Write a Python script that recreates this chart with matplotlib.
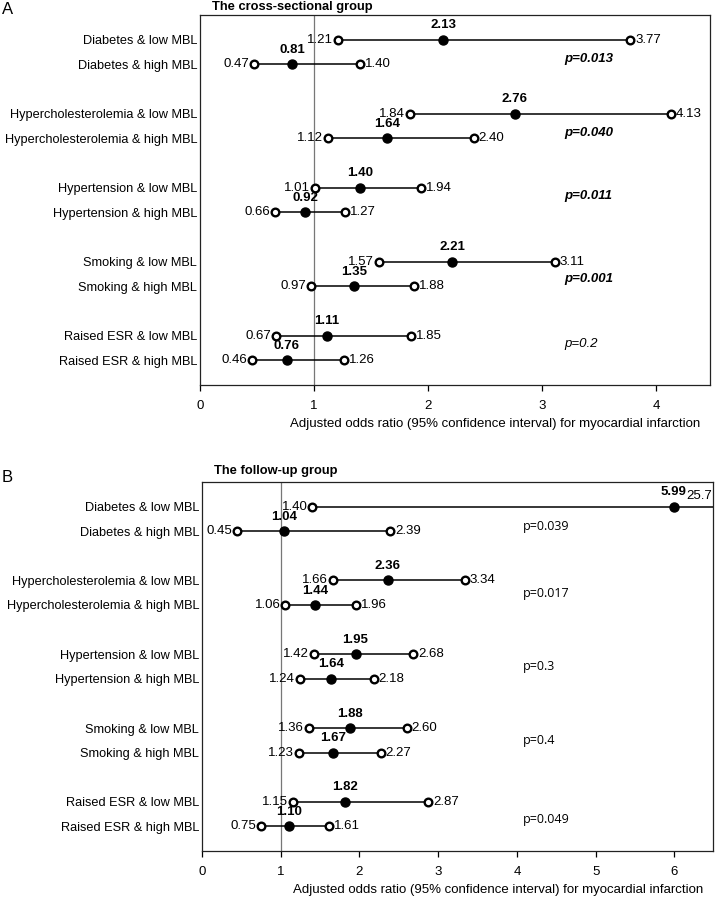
import numpy as np
import matplotlib.pyplot as plt

plt.rcParams['font.family'] = ['Liberation Sans', 'DejaVu Sans']

## data
rows = ['Diabetes & low MBL', 'Diabetes & high MBL',
        'Hypercholesterolemia & low MBL', 'Hypercholesterolemia & high MBL',
        'Hypertension & low MBL', 'Hypertension & high MBL',
        'Smoking & low MBL', 'Smoking & high MBL',
        'Raised ESR & low MBL', 'Raised ESR & high MBL']

a_or = [2.13, 0.81, 2.76, 1.64, 1.40, 0.92, 2.21, 1.35, 1.11, 0.76]
a_lo = [1.21, 0.47, 1.84, 1.12, 1.01, 0.66, 1.57, 0.97, 0.67, 0.46]
a_hi = [3.77, 1.40, 4.13, 2.40, 1.94, 1.27, 3.11, 1.88, 1.85, 1.26]
a_p = ['p=0.013', 'p=0.040', 'p=0.011', 'p=0.001', 'p=0.2']
a_p_bold = [True, True, True, True, False]

b_or = [5.99, 1.04, 2.36, 1.44, 1.95, 1.64, 1.88, 1.67, 1.82, 1.10]
b_lo = [1.40, 0.45, 1.66, 1.06, 1.42, 1.24, 1.36, 1.23, 1.15, 0.75]
b_hi = [25.7, 2.39, 3.34, 1.96, 2.68, 2.18, 2.60, 2.27, 2.87, 1.61]
b_p = ['p=0.039', 'p=0.017', 'p=0.3', 'p=0.4', 'p=0.049']

xlab = 'Adjusted odds ratio (95% confidence interval) for myocardial infarction'

# layout
ypos = []
for g in range(5):
    ypos += [g * 3, g * 3 + 1]
a_p_off = [0.8, 0.77, 0.33, 0.7, 0.33]
b_p_off = [0.79, 0.55, 0.5, 0.5, 0.7]

W, H = 716, 899
fig = plt.figure(figsize=(W / 100, H / 100), dpi=100)


def draw_panel(ax, orr, lo, hi, xmax, title, title_y, pvals, poff, px, pstyle):
    ax.axvline(1, color='#777777', lw=0.9, zorder=1)
    for y, m, l, h in zip(ypos, orr, lo, hi):
        ax.plot([l, h], [y, y], color='black', lw=1.1, zorder=2)
        ax.plot([l, h], [y, y], 'o', ms=5.5, mfc='white', mec='black', mew=1.7, zorder=3)
        ax.plot(m, y, 'o', ms=6.5, color='black', zorder=4)
        ax.annotate('%.2f' % m, (m, y), xytext=(0, 6), textcoords='offset points',
                    ha='center', va='bottom', fontsize=9.5, fontweight='bold')
        ax.annotate('%.2f' % l, (l, y), xytext=(-3.5, 0), textcoords='offset points',
                    ha='right', va='center', fontsize=9.5)
        if h > xmax:
            ax.annotate('%.1f' % h, (1, y), xycoords=('axes fraction', 'data'),
                        xytext=(-1, 3), textcoords='offset points',
                        ha='right', va='bottom', fontsize=9.5)
        else:
            ax.annotate('%.2f' % h, (h, y), xytext=(3.5, 0), textcoords='offset points',
                        ha='left', va='center', fontsize=9.5)
    for g, (p, o) in enumerate(zip(pvals, poff)):
        ax.text(px, g * 3 + o, p, ha='left', va='center', **pstyle[g])
    ax.set_xlim(0, xmax)
    ax.set_ylim(13 + 1.0, -1.0)
    ax.set_yticks(ypos)
    ax.set_yticklabels(rows, fontsize=9.2)
    ax.tick_params(axis='y', length=0, pad=2)
    ax.tick_params(axis='x', length=4.5, width=0.9, pad=6, labelsize=9.5)
    ax.set_xticks(range(int(xmax) + 1))
    for s in ax.spines.values():
        s.set_linewidth(0.9)
        s.set_color('#222222')
    ax.text(0.024, title_y, title, transform=ax.transAxes, ha='left', va='center',
            fontsize=9.3, fontweight='bold')
    ax.text(0.98, -0.105, xlab, transform=ax.transAxes, ha='right', va='center', fontsize=9.5)


# panel A
axA = fig.add_axes([200 / W, 1 - 385 / H, 510 / W, 370 / H])
styleA = [dict(fontsize=9.5, fontweight='bold' if b else 'normal', fontstyle='italic')
          for b in a_p_bold]
draw_panel(axA, a_or, a_lo, a_hi, 4.47, 'The cross-sectional group', 1.021,
           a_p, a_p_off, 3.19, styleA)

# panel B
axB = fig.add_axes([202 / W, 1 - 851 / H, 511 / W, 369 / H])
styleB = [dict(fontsize=9, family=['Open Sans', 'DejaVu Sans']) for _ in b_p]
draw_panel(axB, b_or, b_lo, b_hi, 6.49, 'The follow-up group', 1.03,
           b_p, b_p_off, 4.07, styleB)

fig.text(2 / W, 1 - 10 / H, 'A', ha='left', va='center', fontsize=12)
fig.text(2 / W, 1 - 478 / H, 'B', ha='left', va='center', fontsize=12)

fig.savefig('out.png', dpi=100)
